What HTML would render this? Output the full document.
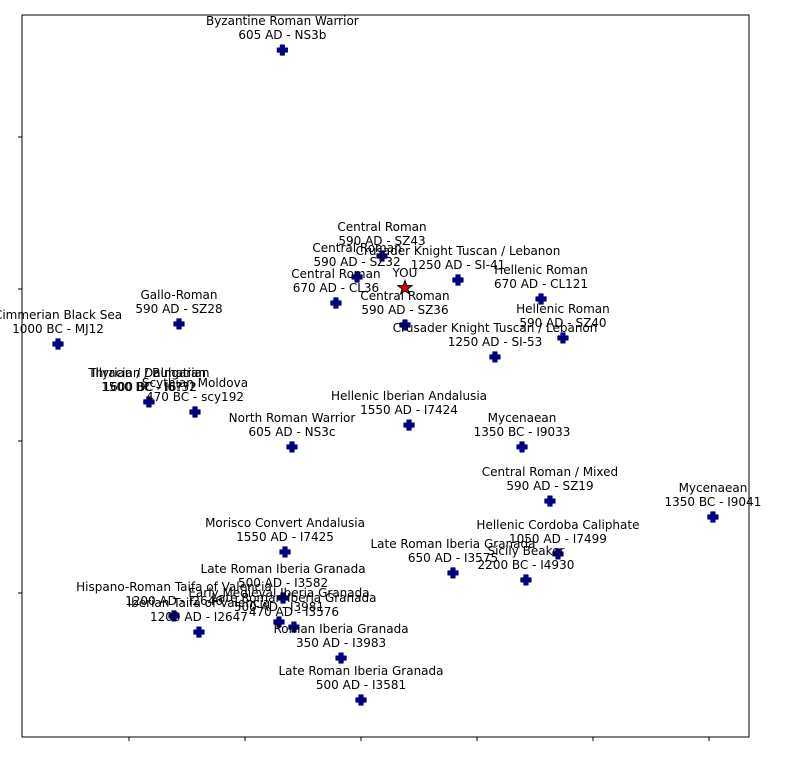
<!DOCTYPE html>
<html><head><meta charset="utf-8"><style>
html,body{margin:0;padding:0;background:#fff;}
svg{display:block;font-family:"DejaVu Sans","Liberation Sans",sans-serif;}
</style></head><body>
<svg id="chart" width="785" height="763" xmlns="http://www.w3.org/2000/svg">
<rect x="22" y="15" width="727" height="722" fill="none" stroke="#000" stroke-width="1"/>
<g id="ticks"></g>
<g id="marks"></g>
</svg>
<script>
const names = ["Byzantine Roman Warrior","Central Roman","Central Roman","Crusader Knight Tuscan / Lebanon","Central Roman","Central Roman","Hellenic Roman","Hellenic Roman","Crusader Knight Tuscan / Lebanon","Gallo-Roman","Cimmerian Black Sea","Illyrian / Dalmatian","Thracian / Bulgarian","Scythian Moldova","North Roman Warrior","Hellenic Iberian Andalusia","Mycenaean","Central Roman / Mixed","Mycenaean","Hellenic Cordoba Caliphate","Morisco Convert Andalusia","Late Roman Iberia Granada","Sicily Beaker","Late Roman Iberia Granada","Hispano-Roman Taifa of Valencia","Iberian Taifa of Valencia","Early Medieval Iberia Granada","Late Roman Iberia Granada","Roman Iberia Granada","Late Roman Iberia Granada"];
const subs = ["605 AD - NS3b","590 AD - SZ43","590 AD - SZ32","1250 AD - SI-41","670 AD - CL36","590 AD - SZ36","670 AD - CL121","590 AD - SZ40","1250 AD - SI-53","590 AD - SZ28","1000 BC - MJ12","1600 BC - I6???","1500 BC - I6?32","470 BC - scy192","605 AD - NS3c","1550 AD - I7424","1350 BC - I9033","590 AD - SZ19","1350 BC - I9041","1050 AD - I7499","1550 AD - I7425","650 AD - I3575","2200 BC - I4930","500 AD - I3582","1200 AD - I2646","1200 AD - I2647","500 AD - I3981","470 AD - I3576","350 AD - I3983","500 AD - I3581"];
const xs = [1.322,2.181,1.966,2.836,1.784,2.379,3.552,3.741,3.155,0.431,-0.612,0.172,0.172,0.569,1.405,2.414,3.388,3.629,5.034,3.698,1.345,2.793,3.422,1.328,0.388,0.603,1.293,1.422,1.828,2.000];
const ys = [3.572,2.217,2.079,2.059,1.908,1.763,1.934,1.678,1.553,1.770,1.638,1.257,1.257,1.191,0.961,1.105,0.961,0.605,0.500,0.257,0.270,0.132,0.086,-0.033,-0.151,-0.257,-0.191,-0.224,-0.428,-0.704];
const youX = 2.379, youY = 2.007;
const xTicks = [0,1,2,3,4,5];
const yTicks = [0,1,2,3];

const X = v => 129 + v*116;
const Y = v => 593 - v*152;
const NS = "http://www.w3.org/2000/svg";
const tg = document.getElementById('ticks'), mg = document.getElementById('marks');
function mk(tag, attrs, parent){const e=document.createElementNS(NS,tag);for(const k in attrs)e.setAttribute(k,attrs[k]);parent.appendChild(e);return e;}
xTicks.forEach(t=>{
  const l=mk('line',{x1:X(t),x2:X(t),y1:737,y2:741,stroke:'#000'},tg);
  
  
});
yTicks.forEach(t=>{
  const l=mk('line',{x1:18,x2:22,y1:Y(t),y2:Y(t),stroke:'#000'},tg);
  
  
});
xs.forEach((xv,i)=>{
  const px=X(xv), py=Y(ys[i]);
  const p=mk('path',{d:`M${px-2},${py-5}h4v3h3v4h-3v3h-4v-3h-3v-4h3z`,fill:'#000080',stroke:'#000080','stroke-width':1.2,'stroke-linejoin':'round'},mg);
  
  
  const t=mk('text',{x:px,y:py-25,'text-anchor':'middle','font-size':'12',fill:'#000'},mg);
  
  
  t.textContent=names[i];
  const t2=mk('text',{x:px,y:py-11,'text-anchor':'middle','font-size':'12',fill:'#000'},mg);
  
  
  t2.textContent=subs[i];
});
const sx=X(youX), sy=Y(youY);
let pts=[];for(let k=0;k<10;k++){const r=k%2?3:7.5,a=-Math.PI/2+k*Math.PI/5;pts.push((sx+r*Math.cos(a)).toFixed(1)+','+(sy+r*Math.sin(a)).toFixed(1));}
const star=mk('polygon',{points:pts.join(' '),fill:'#e00000',stroke:'#000','stroke-width':1},mg);


const yt=mk('text',{x:sx,y:sy-11,'text-anchor':'middle','font-size':'12',fill:'#000'},mg);


yt.textContent='YOU';
</script>
</body></html>
